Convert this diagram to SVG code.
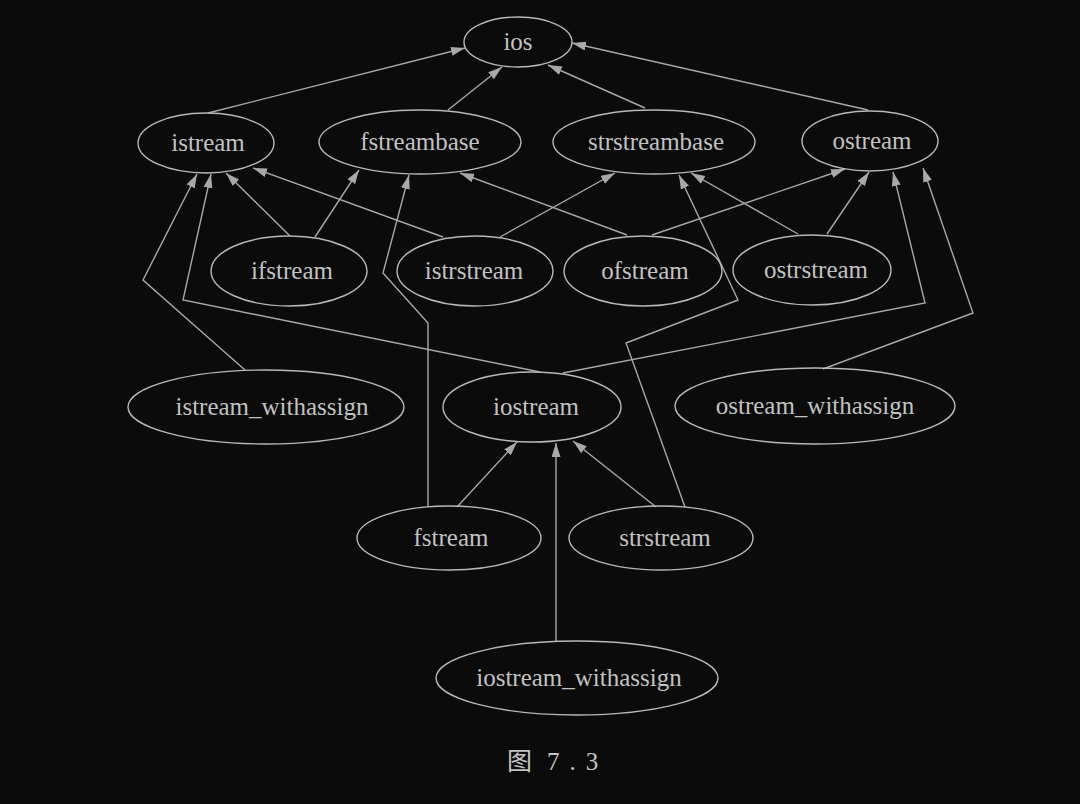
<svg xmlns="http://www.w3.org/2000/svg" width="1080" height="804" viewBox="0 0 1080 804">
<defs>
<style>
.n ellipse{fill:none;stroke:#b8b8b8;stroke-width:1.4}
.n text{font-family:"Liberation Serif","Times New Roman",serif;font-size:25px;fill:#c2c2c2;text-anchor:middle}
.e{fill:none;stroke:#a8a8a8;stroke-width:1.4;marker-end:url(#ah)}
.cap{font-family:"Liberation Serif","Noto Sans CJK SC",serif;font-size:25px;fill:#c4c4c4}
</style>
<marker id="ah" markerUnits="userSpaceOnUse" markerWidth="15" markerHeight="10" refX="14" refY="4.5" orient="auto">
<path d="M0,0 L14,4.5 L0,9 z" fill="#a8a8a8"/>
</marker>
</defs>
<rect x="0" y="0" width="1080" height="804" fill="#0b0b0b"/>
<g id="connectors">
<polyline class="e" points="208,113 465,48"/>
<polyline class="e" points="448,110 502,67"/>
<polyline class="e" points="645,108 548,65"/>
<polyline class="e" points="868,110 572,43"/>
<polyline class="e" points="290,236 226,173"/>
<polyline class="e" points="315,237 359,170"/>
<polyline class="e" points="443,237 253,168"/>
<polyline class="e" points="500,237 615,173"/>
<polyline class="e" points="627,235 460,173"/>
<polyline class="e" points="652,235 845,169"/>
<polyline class="e" points="798,234 691,173"/>
<polyline class="e" points="827,234 869,172"/>
<polyline class="e" points="245,370 143,280 197,174"/>
<polyline class="e" points="540,372 183,300 211,174"/>
<polyline class="e" points="563,373 925,303 893,172"/>
<polyline class="e" points="823,369 973,313 923,168"/>
<polyline class="e" points="428,507 428,323 383,273 409,175"/>
<polyline class="e" points="685,507 626,343 738,300 679,175"/>
<polyline class="e" points="457,507 517,442"/>
<polyline class="e" points="656,507 573,441"/>
<polyline class="e" points="556,641 556,443"/>
</g>
<g id="ios" class="n"><ellipse cx="518" cy="42" rx="54" ry="25"/><text x="518" y="50">ios</text></g>
<g id="istream" class="n"><ellipse cx="206" cy="143" rx="68" ry="30"/><text x="208" y="151">istream</text></g>
<g id="fstreambase" class="n"><ellipse cx="420" cy="142" rx="101" ry="32"/><text x="420" y="150">fstreambase</text></g>
<g id="strstreambase" class="n"><ellipse cx="654" cy="142" rx="101" ry="32"/><text x="656" y="150">strstreambase</text></g>
<g id="ostream" class="n"><ellipse cx="870" cy="141" rx="68" ry="30"/><text x="872" y="149">ostream</text></g>
<g id="ifstream" class="n"><ellipse cx="289" cy="271" rx="78" ry="35"/><text x="292" y="279">ifstream</text></g>
<g id="istrstream" class="n"><ellipse cx="475" cy="271" rx="78" ry="35"/><text x="474" y="279">istrstream</text></g>
<g id="ofstream" class="n"><ellipse cx="643" cy="271" rx="79" ry="35"/><text x="645" y="279">ofstream</text></g>
<g id="ostrstream" class="n"><ellipse cx="812" cy="270" rx="79" ry="35"/><text x="816" y="278">ostrstream</text></g>
<g id="istream_withassign" class="n"><ellipse cx="266" cy="407" rx="138" ry="37"/><text x="272" y="415">istream_withassign</text></g>
<g id="iostream" class="n"><ellipse cx="532" cy="407" rx="89" ry="35"/><text x="536" y="415">iostream</text></g>
<g id="ostream_withassign" class="n"><ellipse cx="815" cy="406" rx="140" ry="38"/><text x="815" y="414">ostream_withassign</text></g>
<g id="fstream" class="n"><ellipse cx="449" cy="538" rx="92" ry="32"/><text x="451" y="546">fstream</text></g>
<g id="strstream" class="n"><ellipse cx="661" cy="538" rx="92" ry="32"/><text x="665" y="546">strstream</text></g>
<g id="iostream_withassign" class="n"><ellipse cx="577" cy="678" rx="141" ry="37"/><text x="579" y="686">iostream_withassign</text></g>
<text class="cap" x="507" y="770">图</text>
<text class="cap" x="547" y="770" letter-spacing="10">7.3</text>
</svg>
